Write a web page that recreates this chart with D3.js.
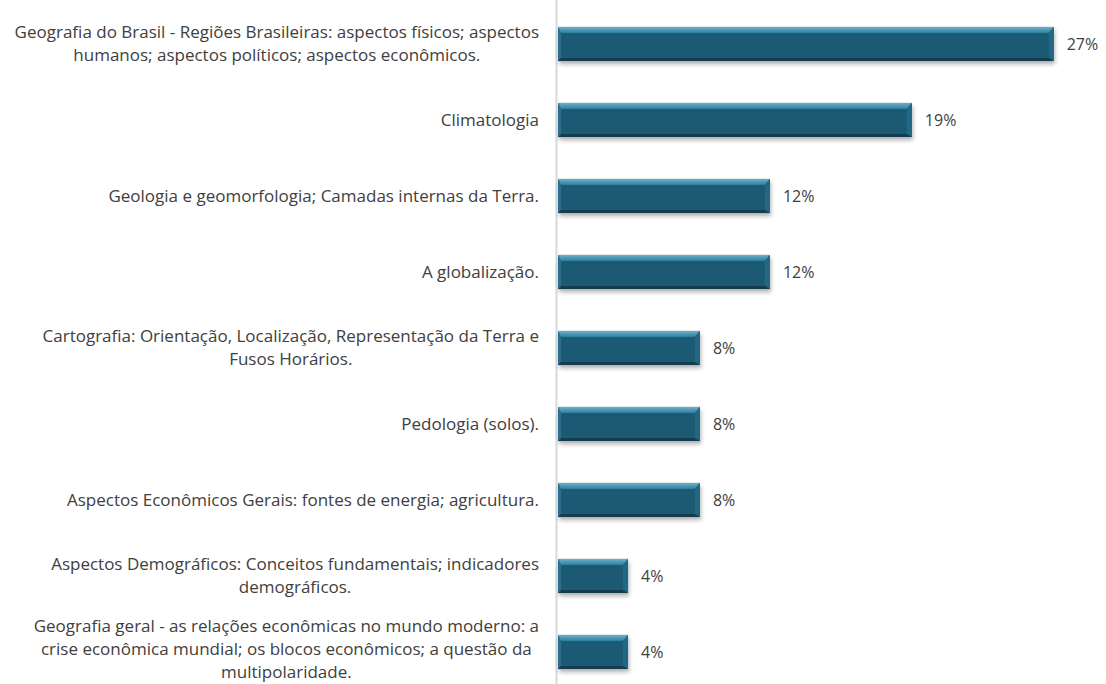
<!DOCTYPE html>
<html>
<head>
<meta charset="utf-8">
<script src="https://cdn.jsdelivr.net/npm/d3@7"></script>
<style>
  body { margin: 0; background: #fff; }
  svg { display: block; }
  text { font-family: "Open Sans", sans-serif; fill: #404040; }
</style>
</head>
<body>
<svg id="chart"></svg>
<script>
// topics (lines split as in the original chart)
var topics = [
  ["Geografia do Brasil - Regiões Brasileiras: aspectos físicos; aspectos", "humanos; aspectos políticos; aspectos econômicos."],
  ["Climatologia"],
  ["Geologia e geomorfologia; Camadas internas da Terra."],
  ["A globalização."],
  ["Cartografia: Orientação, Localização, Representação da Terra e", "Fusos Horários."],
  ["Pedologia (solos)."],
  ["Aspectos Econômicos Gerais: fontes de energia; agricultura."],
  ["Aspectos Demográficos: Conceitos fundamentais; indicadores", "demográficos."],
  ["Geografia geral - as relações econômicas no mundo moderno: a", "crise econômica mundial; os blocos econômicos; a questão da", "multipolaridade."]
];
var shares = [0.269, 0.192, 0.115, 0.115, 0.077, 0.077, 0.077, 0.038, 0.038];

var svgWidth = 1106, svgHeight = 684;
var fontSize = 17, lineH = 23;

var svg = d3.select("#chart")
    .attr("width", svgWidth)
    .attr("height", svgHeight);

var x = d3.scaleLinear().domain([0, 0.28]).range([558, 1074]);
var y = d3.scaleBand().domain(d3.range(topics.length)).range([6, 690]).paddingInner(0.55).paddingOuter(0.275);

// drop shadow
var defs = svg.append("defs");
var f = defs.append("filter").attr("id", "shadow").attr("x", "-10%").attr("y", "-30%").attr("width", "130%").attr("height", "180%");
f.append("feDropShadow").attr("dx", 1).attr("dy", 3).attr("stdDeviation", 2).attr("flood-color", "#000").attr("flood-opacity", 0.3);

var topGrad = defs.append("linearGradient").attr("id", "topGrad").attr("x1", 0).attr("y1", 0).attr("x2", 0).attr("y2", 1);
topGrad.append("stop").attr("offset", "0%").attr("stop-color", "#6db0ca");
topGrad.append("stop").attr("offset", "100%").attr("stop-color", "#2f7f9f");

// axis line
svg.append("line")
    .attr("x1", 556.5).attr("x2", 556.5)
    .attr("y1", 0).attr("y2", svgHeight)
    .attr("stroke", "#d9d9d9").attr("stroke-width", 2);

var bars = svg.selectAll("g.bar")
    .data(shares)
    .enter()
    .append("g")
    .attr("class", "bar");

// bevel sizes: top, left, right, bottom
var bt = 6, bl = 3, br = 5, bb = 3;
bars.each(function(d, i) {
    var g = d3.select(this);
    var x0 = x(0), x1 = x(d), y0 = y(i), y1 = y(i) + y.bandwidth();
    var b = g.append("g").attr("filter", "url(#shadow)");
    b.append("rect")
        .attr("x", x0).attr("y", y0)
        .attr("width", x1 - x0).attr("height", y1 - y0)
        .attr("fill", "#1b5a73");
    b.append("polygon")
        .attr("points", [[x0, y0], [x1, y0], [x1 - br, y0 + bt], [x0 + bl, y0 + bt]].join(" "))
        .attr("fill", "url(#topGrad)");
    b.append("polygon")
        .attr("points", [[x0, y0], [x0 + bl, y0 + bt], [x0 + bl, y1 - bb], [x0, y1]].join(" "))
        .attr("fill", "#2a7090");
    b.append("polygon")
        .attr("points", [[x1, y0], [x1, y1], [x1 - br, y1 - bb], [x1 - br, y0 + bt]].join(" "))
        .attr("fill", "#236784");
    b.append("polygon")
        .attr("points", [[x0, y1], [x0 + bl, y1 - bb], [x1 - br, y1 - bb], [x1, y1]].join(" "))
        .attr("fill", "#123e50");
});

// value labels
svg.selectAll("text.val")
    .data(shares)
    .enter()
    .append("text")
    .attr("class", "val")
    .attr("x", function(d) { return x(d) + 13; })
    .attr("y", function(d, i) { return y(i) + y.bandwidth() / 2; })
    .attr("dy", "0.35em")
    .attr("font-size", fontSize - 1)
    .text(d3.format(".0%"));

// category labels: block right aligned, lines centred within block
svg.selectAll("g.cat")
    .data(topics)
    .enter()
    .append("g")
    .attr("class", "cat")
    .each(function(lines, i) {
        var g = d3.select(this);
        var cy = y(i) + y.bandwidth() / 2;
        // keep the last line inside the picture
        var lastY = cy + (lines.length - 1) / 2 * lineH;
        if (lastY > svgHeight - 12) cy -= lastY - (svgHeight - 12);
        var ts = g.selectAll("text").data(lines).enter().append("text")
            .attr("font-size", fontSize)
            .attr("dy", "0.35em")
            .attr("y", function(l, k) { return cy + (k - (lines.length - 1) / 2) * lineH; })
            .text(function(l) { return l; });
        var w = d3.max(ts.nodes(), function(n) { return n.getComputedTextLength(); });
        var cx = 539 - w / 2;
        ts.attr("x", cx).attr("text-anchor", "middle");
    });
</script>
</body>
</html>
